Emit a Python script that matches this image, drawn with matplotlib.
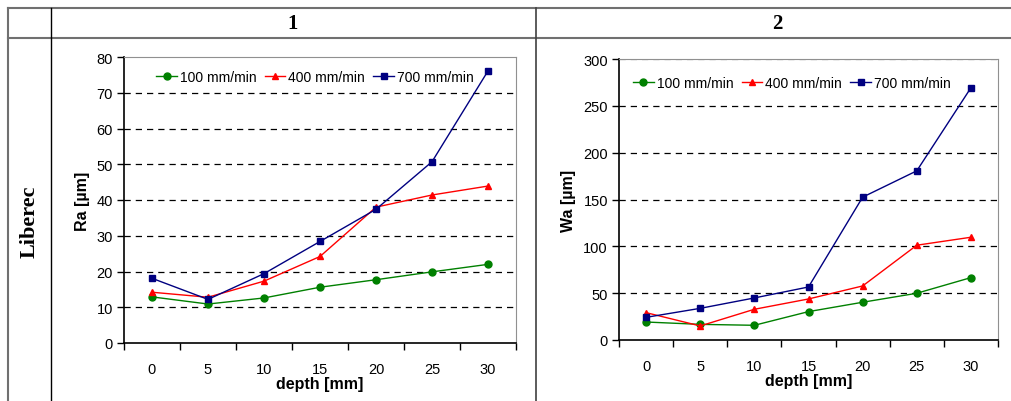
import numpy as np
import matplotlib
matplotlib.use("Agg")
import matplotlib.pyplot as plt
from matplotlib.lines import Line2D

plt.rcParams['font.family'] = ['Liberation Sans', 'DejaVu Sans']

# datos
depth = ['0', '5', '10', '15', '20', '25', '30']
labels = ['100 mm/min', '400 mm/min', '700 mm/min']

ra_100 = [12.9, 10.9, 12.6, 15.6, 17.7, 19.9, 22.0]
ra_400 = [14.2, 12.8, 17.3, 24.2, 38.0, 41.4, 43.9]
ra_700 = [18.1, 12.2, 19.4, 28.4, 37.4, 50.7, 76.1]

wa_100 = [19.2, 16.7, 15.7, 30.3, 40.3, 49.9, 66.6]
wa_400 = [29.2, 15.0, 32.8, 43.8, 57.7, 101.2, 109.7]
wa_700 = [24.2, 33.8, 44.9, 56.6, 152.5, 180.6, 269.3]

colores = ['#008000', '#FF0000', '#000080']
marcadores = ['o', '^', 's']

W, H = 1012, 402
fig = plt.figure(figsize=(W / 100, H / 100), dpi=100)


def px_axes(left, right, top, bottom):
    return fig.add_axes([left / W, (H - bottom) / H, (right - left) / W, (bottom - top) / H])


def grafico(ax, series, ymax, ystep, ylabel, leg_xy, top_grid):
    x = np.arange(len(depth))
    for s, c, m, lab in zip(series, colores, marcadores, labels):
        ax.plot(x, s, color=c, marker=m, markersize=5, linewidth=1.0, label=lab)
    ax.set_xlim(-0.5, len(depth) - 0.5)
    ax.set_ylim(0, ymax)
    ticks = np.arange(0, ymax + 1, ystep)
    ax.set_yticks(ticks)
    gl = ticks[1:] if top_grid else ticks[1:-1]
    for t in gl:
        ax.axhline(t, color='black' if t < ymax else '#808080', linestyle=(0, (5, 4)),
                   linewidth=0.9, zorder=0.5)
    ax.set_xticks(x)
    ax.set_xticklabels(depth)
    ax.set_xticks(np.arange(-0.5, len(depth)), minor=True)
    ax.tick_params(axis='x', which='major', length=0, pad=14, labelsize=10.5)
    ax.tick_params(axis='x', which='minor', length=5, width=1, direction='out')
    ax.tick_params(axis='y', length=5, width=1, direction='out', pad=3, labelsize=10.5)
    ax.spines['left'].set_linewidth(1.2)
    ax.spines['bottom'].set_linewidth(1.2)
    ax.spines['top'].set_color('#909090')
    ax.spines['right'].set_color('#909090')
    ax.set_xlabel('depth [mm]', fontweight='bold', fontsize=11.5, labelpad=0)
    ax.set_ylabel(ylabel, fontweight='bold', fontsize=11.5, labelpad=5)
    ax.legend(loc='center', bbox_to_anchor=leg_xy, ncol=3, frameon=False, fontsize=10,
              handlelength=1.5, handletextpad=0.2, columnspacing=0.6, borderaxespad=0)


ax1 = px_axes(124, 516, 58, 344)
grafico(ax1, [ra_100, ra_400, ra_700], 80, 10, 'Ra [µm]', (0.487, 0.93), False)

ax2 = px_axes(619, 998, 60, 341)
grafico(ax2, [wa_100, wa_400, wa_700], 300, 50, 'Wa [µm]', (0.456, 0.915), True)

# tabla alrededor
def linea(x0, y0, x1, y1, color, lw):
    fig.add_artist(Line2D([x0 / W, x1 / W], [(H - y0) / H, (H - y1) / H],
                          color=color, linewidth=lw, transform=fig.transFigure))

linea(8, 9, W, 9, '#707070', 1.5)
linea(8, 39, W, 39, '#707070', 1.5)
linea(8, 9, 8, H, '#707070', 1.5)
linea(51, 9, 51, H, 'black', 1.0)
linea(536, 9, 536, H, '#404040', 1.2)

fig.text(293 / W, (H - 24) / H, '1', ha='center', va='center', fontsize=15,
         fontweight='bold', family='Liberation Serif')
fig.text(777 / W, (H - 24) / H, '2', ha='center', va='center', fontsize=15,
         fontweight='bold', family='Liberation Serif')
fig.text(30 / W, (H - 222) / H, 'Liberec', ha='center', va='center', rotation=90,
         fontsize=16, fontweight='bold', family='Liberation Serif')

fig.savefig('out.png', dpi=100)
